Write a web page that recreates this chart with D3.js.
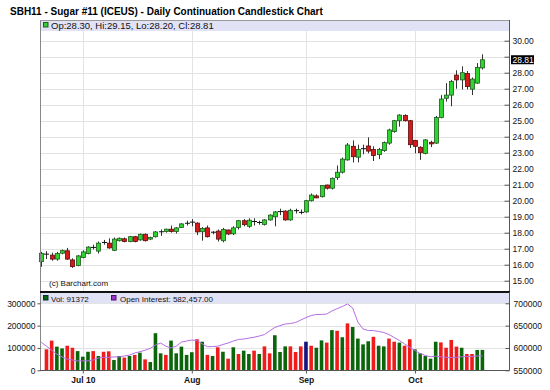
<!DOCTYPE html>
<html lang="en">
<head>
    <meta charset="UTF-8">
    <title>SBH11 - Sugar #11</title>
    <script src="https://cdn.jsdelivr.net/npm/d3@7"></script>
    <style>
        body { margin: 0; background: #fff; }
        svg { display: block; font-family: "Liberation Sans", Arial, sans-serif; }
        .grid line { stroke: #e3e3e3; stroke-width: 1; }
        .axis text { font-size: 8.5px; fill: #111; }
        .axis path, .axis line { stroke: #555; }
        .legend text { font-size: 8px; fill: #111; }
    </style>
</head>
<body>
<div class="chart"></div>
<script>
// trading days shown on the chart
var dates = [
    '2010-06-21','2010-06-22','2010-06-23','2010-06-24','2010-06-25','2010-06-28','2010-06-29','2010-06-30',
    '2010-07-01','2010-07-02','2010-07-06','2010-07-07','2010-07-08','2010-07-09','2010-07-12','2010-07-13',
    '2010-07-14','2010-07-15','2010-07-16','2010-07-19','2010-07-20','2010-07-21','2010-07-22','2010-07-23',
    '2010-07-26','2010-07-27','2010-07-28','2010-07-29','2010-07-30',
    '2010-08-02','2010-08-03','2010-08-04','2010-08-05','2010-08-06','2010-08-09','2010-08-10','2010-08-11',
    '2010-08-12','2010-08-13','2010-08-16','2010-08-17','2010-08-18','2010-08-19','2010-08-20','2010-08-23',
    '2010-08-24','2010-08-25','2010-08-26','2010-08-27','2010-08-30','2010-08-31',
    '2010-09-01','2010-09-02','2010-09-03','2010-09-07','2010-09-08','2010-09-09','2010-09-10','2010-09-13',
    '2010-09-14','2010-09-15','2010-09-16','2010-09-17','2010-09-20','2010-09-21','2010-09-22','2010-09-23',
    '2010-09-24','2010-09-27','2010-09-28','2010-09-29','2010-09-30',
    '2010-10-01','2010-10-04','2010-10-05','2010-10-06','2010-10-07','2010-10-08','2010-10-11','2010-10-12',
    '2010-10-13','2010-10-14','2010-10-15','2010-10-18','2010-10-19','2010-10-20'
];

var open  = [16.19,16.64,16.60,16.35,16.72,16.87,16.30,15.95,16.45,16.70,17.10,16.85,17.37,17.35,16.90,17.50,
             17.62,17.45,17.75,17.55,17.90,17.60,17.75,18.04,18.07,18.22,18.07,18.33,18.57,18.64,18.60,18.06,
             18.30,18.01,18.10,17.50,18.17,17.93,18.33,18.75,18.40,18.68,18.62,18.52,18.80,19.00,19.30,19.35,
             18.80,19.36,19.25,19.30,20.00,20.30,20.25,20.98,20.78,21.45,21.78,22.55,23.40,22.72,23.22,23.42,
             23.20,22.88,23.13,23.60,24.32,25.00,25.32,25.00,23.77,23.34,22.95,23.65,23.60,25.20,26.40,26.60,
             27.85,27.55,27.95,26.97,27.35,28.30];
var high  = [16.80,16.85,16.75,16.80,16.95,17.05,16.40,16.60,16.90,17.15,17.25,17.45,17.55,17.65,17.70,17.70,
             17.70,17.80,17.80,17.95,17.95,17.75,18.10,18.20,18.25,18.45,18.35,18.60,18.75,18.85,18.65,18.35,
             18.45,18.10,18.20,18.30,18.20,18.40,18.80,18.85,18.90,18.90,18.75,18.85,19.15,19.35,19.50,19.40,
             19.50,19.50,19.45,20.05,20.45,20.40,20.95,21.00,21.45,22.20,22.70,23.60,23.77,23.50,23.50,23.96,
             23.40,23.30,23.70,24.50,25.05,25.40,25.40,25.05,23.80,23.40,23.85,23.75,25.30,26.60,27.35,27.55,
             28.15,28.40,28.10,27.70,28.60,29.15];
var low   = [15.87,16.35,16.25,16.25,16.65,16.30,15.80,15.90,16.40,16.65,16.95,16.70,17.25,17.00,16.85,17.45,
             17.40,17.40,17.40,17.50,17.45,17.55,17.70,17.80,18.00,18.00,17.95,18.30,18.45,18.40,17.85,17.50,
             17.70,17.90,17.45,17.40,17.85,17.85,18.20,18.40,18.30,18.45,18.50,18.45,18.75,18.40,19.10,18.75,
             18.75,19.20,19.15,19.25,19.95,20.15,20.20,20.70,20.70,21.30,21.70,22.50,22.39,22.40,22.90,22.96,
             22.48,22.60,23.05,23.50,24.25,24.63,24.95,23.30,22.96,22.55,22.90,23.35,23.55,25.15,26.20,25.90,
             27.00,26.95,26.95,26.60,27.30,28.20];
var close = [16.71,16.66,16.35,16.70,16.88,16.35,15.88,16.55,16.80,17.10,17.08,17.35,17.39,17.05,17.60,17.65,
             17.45,17.75,17.45,17.90,17.50,17.70,18.05,18.06,18.22,18.07,18.30,18.55,18.59,18.66,18.05,18.27,
             17.75,18.03,17.60,18.20,17.92,18.30,18.75,18.50,18.78,18.70,18.64,18.80,19.10,19.30,19.32,18.80,
             19.40,19.38,19.27,20.00,20.35,20.18,20.95,20.78,21.40,21.78,22.60,23.48,22.75,23.20,23.25,23.10,
             22.82,23.20,23.63,24.42,25.00,25.35,25.00,23.50,23.40,23.00,23.80,23.55,25.20,26.35,26.60,27.45,
             27.55,28.00,27.13,27.60,28.33,28.81];

// daily volume and its colour code: u = up, d = down, n = unchanged
var volume = [null,94000,133000,106000,98000,110000,101000,86000,61000,83000,86000,64000,83000,85000,46000,64000,
              57000,64000,69000,79000,49000,37000,166000,76000,69000,133000,76000,106000,69000,81000,139000,128000,
              69000,64000,103000,83000,52000,103000,73000,88000,73000,88000,73000,107000,76000,157000,82000,107000,
              107000,82000,107000,128000,110000,101000,134000,124000,180000,177000,148000,210000,194000,142000,116000,130000,
              150000,110000,107000,142000,128000,124000,110000,139000,94000,76000,64000,52000,128000,125000,101000,136000,
              106000,101000,73000,73000,91000,91372];
var volDir = 'udduudduuududduudududuuuduuuuudududududuududduuudddnduudududuuuuduuddudduuuuuddddudduuuuuudud'.split('');

var openInterest = [612700,604000,595000,586000,580000,575000,573000,571000,571000,571000,573000,577500,579000,579000,580000,580000,
                    582000,584000,588700,591600,595000,599000,606600,611000,604000,600000,604000,613000,615600,617800,616700,609000,
                    602800,603000,604000,607800,611000,615600,619000,620000,622000,624000,626800,630000,638000,645800,650000,653600,
                    654800,657000,662600,668000,672700,675000,675000,676000,682700,688000,692800,698400,689500,658000,642500,639000,
                    639000,637000,634600,630000,623400,616700,609000,601000,594300,587600,583000,580400,581600,580000,579000,578600,
                    579000,580400,581000,581000,582000,582457];

var priceTicks = [15,16,17,18,19,20,21,22,23,24,25,26,27,28,29,30];
var volTicks = [0,100000,200000,300000];
var oiTicks = [550000,600000,650000,700000];
var monthTickDates = ['2010-07-01','2010-08-02','2010-09-01','2010-10-01'];
var monthTickLabels = ['Jul 10','Aug','Sep','Oct'];

var title = 'SBH11 - Sugar #11 (ICEUS) - Daily Continuation Candlestick Chart';

var width = 550, height = 390;
var left = 40, right = 509;
var mainTop = 20, mainBottom = 292;
var volTop = 292, volBottom = 370.3;

var data = dates.map(function(d, i) {
    return { date: d, o: open[i], h: high[i], l: low[i], c: close[i],
             v: volume[i], dir: volDir[i], oi: openInterest[i] };
});
var last = data[data.length - 1];

var svg = d3.select('.chart').append('svg')
    .attr('width', width)
    .attr('height', height);

var x = d3.scalePoint().domain(dates).range([38.7, 485]).padding(0.5);
var yPrice = d3.scaleLinear().domain([15, 30]).range([280.7, 40.7]);
var yVol = d3.scaleLinear().domain([0, 300000]).range([volBottom, 303.3]);
var yOI = d3.scaleLinear().domain([550000, 700000]).range([volBottom, 303.3]);

svg.append('text')
    .attr('x', 10).attr('y', 14.5)
    .attr('font-size', 10).attr('font-weight', 'bold')
    .text(title);

// grid
var grid = svg.append('g').attr('class', 'grid');
grid.selectAll('line.h').data(priceTicks).enter().append('line')
    .attr('x1', left).attr('x2', right)
    .attr('y1', function(d) { return Math.round(yPrice(d)) + 0.5; })
    .attr('y2', function(d) { return Math.round(yPrice(d)) + 0.5; });
grid.selectAll('line.vh').data(volTicks.slice(1)).enter().append('line')
    .attr('x1', left).attr('x2', right)
    .attr('y1', function(d) { return Math.round(yVol(d)) + 0.5; })
    .attr('y2', function(d) { return Math.round(yVol(d)) + 0.5; });
grid.selectAll('line.v').data(monthTickDates).enter().append('line')
    .attr('x1', function(d) { return Math.round(x(d)) + 0.5; })
    .attr('x2', function(d) { return Math.round(x(d)) + 0.5; })
    .attr('y1', 31).attr('y2', volBottom);

// legend bars
svg.append('rect').attr('x', left).attr('y', mainTop).attr('width', right - left).attr('height', 11)
    .attr('fill', '#e2e2f7');
svg.append('rect').attr('x', left).attr('y', volTop + 1).attr('width', right - left).attr('height', 10)
    .attr('fill', '#e2e2f7');

var lg = svg.append('g').attr('class', 'legend');
lg.append('rect').attr('x', 43.5).attr('y', 22.5).attr('width', 4.5).attr('height', 4.5)
    .attr('fill', '#33cc33').attr('stroke', '#1b5e1b');
lg.append('text').attr('x', 51).attr('y', 29).style('font-size', '9.5px')
    .text('Op:' + last.o.toFixed(2) + ', Hi:' + last.h.toFixed(2) + ', Lo:' + last.l.toFixed(2) + ', Cl:' + last.c.toFixed(2));
lg.append('rect').attr('x', 43.5).attr('y', 295.5).attr('width', 4.5).attr('height', 4.5)
    .attr('fill', '#0a640a').attr('stroke', '#033');
lg.append('text').attr('x', 51).attr('y', 302).text('Vol: ' + last.v);
lg.append('rect').attr('x', 111.5).attr('y', 295.5).attr('width', 4.5).attr('height', 4.5)
    .attr('fill', '#9933cc').attr('stroke', '#4a1366');
lg.append('text').attr('x', 120).attr('y', 302).text('Open Interest: ' + d3.format(',.2f')(last.oi));
lg.append('text').attr('x', 49).attr('y', 286).text('(c) Barchart.com');

// candles
var candles = svg.append('g').selectAll('g').data(data).enter().append('g');
candles.append('line')
    .attr('x1', function(d) { return Math.round(x(d.date)) + 0.5; })
    .attr('x2', function(d) { return Math.round(x(d.date)) + 0.5; })
    .attr('y1', function(d) { return yPrice(d.h); })
    .attr('y2', function(d) { return yPrice(d.l); })
    .attr('stroke', '#333');
candles.filter(function(d) { return Math.abs(d.o - d.c) >= 0.04; }).append('rect')
    .attr('x', function(d) { return Math.round(x(d.date)) - 1.5; })
    .attr('y', function(d) { return yPrice(Math.max(d.o, d.c)); })
    .attr('width', 4)
    .attr('height', function(d) { return Math.abs(yPrice(d.o) - yPrice(d.c)); })
    .attr('fill', function(d) { return d.c > d.o ? '#2fd42f' : '#d41a1a'; })
    .attr('stroke', function(d) { return d.c > d.o ? '#1d5a1d' : '#5c0c0c'; })
    .attr('stroke-width', 0.8);
candles.filter(function(d) { return Math.abs(d.o - d.c) < 0.04; }).append('line')
    .attr('x1', function(d) { return Math.round(x(d.date)) - 2; })
    .attr('x2', function(d) { return Math.round(x(d.date)) + 3; })
    .attr('y1', function(d) { return yPrice(d.c); })
    .attr('y2', function(d) { return yPrice(d.c); })
    .attr('stroke', '#111');

// volume bars
var volColor = { u: '#0b650b', d: '#f01c1c', n: '#14147e' };
svg.append('g').selectAll('rect').data(data.filter(function(d) { return d.v != null; })).enter().append('rect')
    .attr('x', function(d) { return x(d.date) - 1.8; })
    .attr('y', function(d) { return yVol(d.v); })
    .attr('width', 3.6)
    .attr('height', function(d) { return volBottom - yVol(d.v); })
    .attr('fill', function(d) { return volColor[d.dir]; });

// open interest
svg.append('path').datum(data)
    .attr('fill', 'none')
    .attr('stroke', '#b46ee6')
    .attr('stroke-width', 1)
    .attr('d', d3.line().x(function(d) { return x(d.date); }).y(function(d) { return yOI(d.oi); }));

// panel frames
svg.append('line').attr('x1', left + 0.5).attr('x2', left + 0.5).attr('y1', mainTop).attr('y2', volBottom)
    .attr('stroke', '#888');
svg.append('line').attr('x1', left).attr('x2', right).attr('y1', mainTop + 0.5).attr('y2', mainTop + 0.5)
    .attr('stroke', '#999');
svg.append('line').attr('x1', left).attr('x2', right + 1).attr('y1', volTop).attr('y2', volTop)
    .attr('stroke', '#111').attr('stroke-width', 2);

// axes
var pAxis = svg.append('g').attr('class', 'axis')
    .attr('transform', 'translate(' + (right + 0.5) + ',0)')
    .call(d3.axisRight(yPrice).tickValues(priceTicks).tickSizeInner(-5).tickSizeOuter(0).tickPadding(3)
        .tickFormat(d3.format('.2f')));
pAxis.select('.domain').attr('d', 'M0,' + mainTop + 'V' + (mainBottom - 1));
pAxis.selectAll('.tick').filter(function(d) { return Math.abs(d - last.c) < 0.5; }).select('text').remove();

var lastBox = svg.append('g').attr('transform', 'translate(511,' + yPrice(last.c) + ')');
lastBox.append('rect').attr('x', 0).attr('y', -4.5).attr('width', 23).attr('height', 9).attr('fill', '#000');
lastBox.append('text').attr('x', 1.5).attr('y', 3).attr('font-size', 8.5).attr('fill', '#fff')
    .text(last.c.toFixed(2));

var vAxis = svg.append('g').attr('class', 'axis')
    .attr('transform', 'translate(' + (left + 0.5) + ',0)')
    .call(d3.axisLeft(yVol).tickValues(volTicks).tickSizeInner(3).tickSizeOuter(0).tickPadding(2)
        .tickFormat(d3.format('d')));
vAxis.select('.domain').remove();

var oAxis = svg.append('g').attr('class', 'axis')
    .attr('transform', 'translate(' + (right + 0.5) + ',0)')
    .call(d3.axisRight(yOI).tickValues(oiTicks).tickSizeInner(-4).tickSizeOuter(0).tickPadding(4)
        .tickFormat(d3.format('d')));
oAxis.select('.domain').attr('d', 'M0,' + volTop + 'V' + volBottom);

var xAxis = svg.append('g').attr('class', 'axis')
    .attr('transform', 'translate(0,' + (Math.round(volBottom) + 0.5) + ')')
    .call(d3.axisBottom(x).tickValues(monthTickDates).tickSizeInner(3).tickSizeOuter(0).tickPadding(3)
        .tickFormat(function(d, i) { return monthTickLabels[i]; }));
xAxis.select('.domain').attr('d', 'M' + left + ',0H' + (right + 0.5));
xAxis.selectAll('text').attr('font-weight', 'bold');
</script>
</body>
</html>
